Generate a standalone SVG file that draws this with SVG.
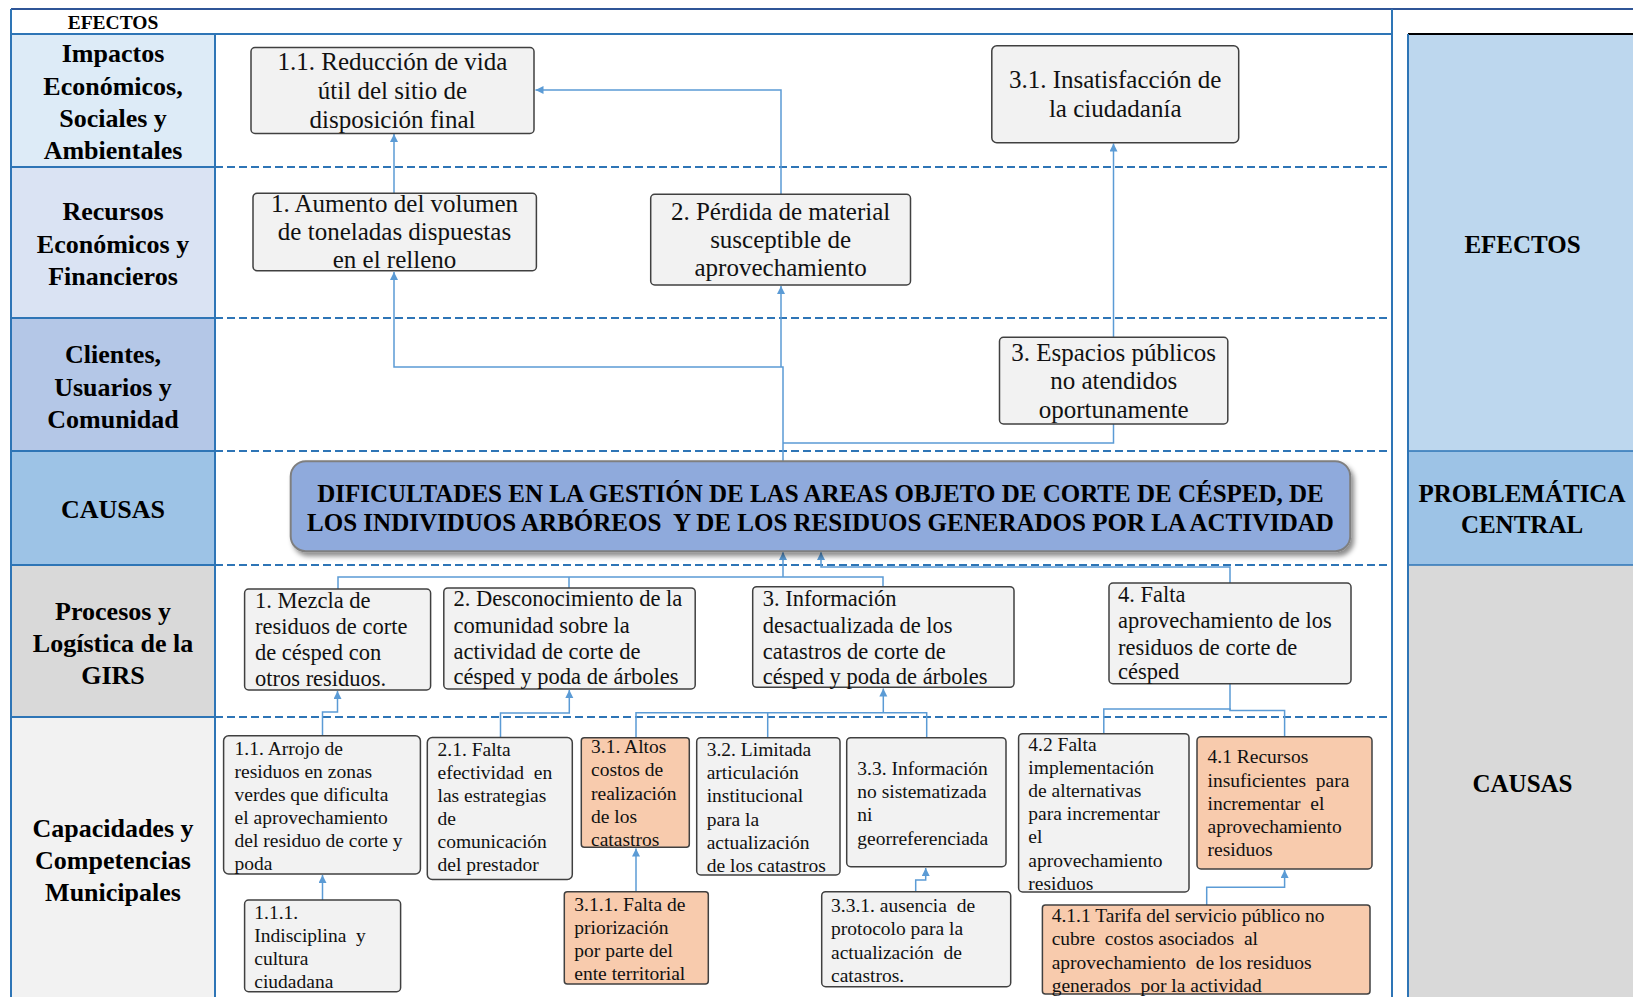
<svg xmlns="http://www.w3.org/2000/svg" width="1633" height="997" viewBox="0 0 1633 997">
<style>
text{white-space:pre}
.lbl{font-family:"Liberation Serif","Times New Roman",serif;font-weight:bold;font-size:26px;text-anchor:middle;fill:#000}
.rlbl{font-family:"Liberation Serif","Times New Roman",serif;font-weight:bold;font-size:25px;text-anchor:middle;fill:#000}
.hdr{font-family:"Liberation Serif","Times New Roman",serif;font-weight:bold;font-size:19.5px;text-anchor:middle;fill:#000}
.eff{font-family:"Liberation Serif","Times New Roman",serif;font-size:25px;text-anchor:middle;fill:#111}
.c1{font-family:"Liberation Serif","Times New Roman",serif;font-size:22.5px;fill:#111}
.c2{font-family:"Liberation Serif","Times New Roman",serif;font-size:19.5px;fill:#111}
.ctr{font-family:"Liberation Serif","Times New Roman",serif;font-weight:bold;font-size:25px;text-anchor:middle;fill:#000}
.box{fill:#F2F2F2;stroke:#404040;stroke-width:1.5}
.obox{fill:#F8CBAD;stroke:#404040;stroke-width:1.5}
.solid{stroke:#2E75B6;stroke-width:2;fill:none}
.dash{stroke:#2E75B6;stroke-width:2;stroke-dasharray:8 4;fill:none}
.conn{fill:none;stroke:#5B9BD5;stroke-width:1.5}
</style>
<defs>
<marker id="arr" markerUnits="userSpaceOnUse" markerWidth="9" markerHeight="9" refX="8" refY="4" orient="auto">
<path d="M0,0 L8,4 L0,8 z" fill="#5B9BD5"/>
</marker>
<filter id="sh" x="-5%" y="-20%" width="110%" height="150%">
<feDropShadow dx="3" dy="4" stdDeviation="2.5" flood-color="#000" flood-opacity="0.45"/>
</filter>
</defs>
<rect x="0" y="0" width="1633" height="997" fill="#fff"/>

<g id="table">
<rect x="11" y="34" width="204" height="133" fill="#DDEBF7"/>
<rect x="11" y="167" width="204" height="151" fill="#DAE3F3"/>
<rect x="11" y="318" width="204" height="133" fill="#B4C7E7"/>
<rect x="11" y="451" width="204" height="114" fill="#9DC3E6"/>
<rect x="11" y="565" width="204" height="152" fill="#D9D9D9"/>
<rect x="11" y="717" width="204" height="280" fill="#F2F2F2"/>
<line x1="11" y1="9" x2="1633" y2="9" stroke="#2F5597" stroke-width="2"/>
<line x1="11" y1="9" x2="11" y2="997" class="solid"/>
<line x1="11" y1="34" x2="1392" y2="34" class="solid"/>
<line x1="1392" y1="9" x2="1392" y2="997" class="solid"/>
<line x1="215" y1="34" x2="215" y2="997" class="solid"/>
<line x1="11" y1="167" x2="215" y2="167" class="solid"/>
<line x1="11" y1="318" x2="215" y2="318" class="solid"/>
<line x1="11" y1="451" x2="215" y2="451" class="solid"/>
<line x1="11" y1="565" x2="215" y2="565" class="solid"/>
<line x1="11" y1="717" x2="215" y2="717" class="solid"/>
<line x1="215" y1="167" x2="1392" y2="167" class="dash"/>
<line x1="215" y1="318" x2="1392" y2="318" class="dash"/>
<line x1="215" y1="451" x2="1392" y2="451" class="dash"/>
<line x1="215" y1="565" x2="1392" y2="565" class="dash"/>
<line x1="215" y1="717" x2="1392" y2="717" class="dash"/>
<text class="hdr" x="113" y="29">EFECTOS</text>
<text class="lbl"><tspan x="113" y="62">Impactos</tspan><tspan x="113" y="94.5">Económicos,</tspan><tspan x="113" y="127">Sociales y</tspan><tspan x="113" y="159">Ambientales</tspan></text>
<text class="lbl"><tspan x="113" y="220">Recursos</tspan><tspan x="113" y="252.5">Económicos y</tspan><tspan x="113" y="284.5">Financieros</tspan></text>
<text class="lbl"><tspan x="113" y="363">Clientes,</tspan><tspan x="113" y="395.5">Usuarios y</tspan><tspan x="113" y="428">Comunidad</tspan></text>
<text class="lbl" x="113" y="518">CAUSAS</text>
<text class="lbl"><tspan x="113" y="619.5">Procesos y</tspan><tspan x="113" y="651.5">Logística de la</tspan><tspan x="113" y="683.5">GIRS</tspan></text>
<text class="lbl"><tspan x="113" y="836.5">Capacidades y</tspan><tspan x="113" y="868.5">Competencias</tspan><tspan x="113" y="900.5">Municipales</tspan></text>
</g>

<g id="right-panel">
<rect x="1408" y="34" width="225" height="417" fill="#BDD7EE"/>
<rect x="1408" y="451" width="225" height="114" fill="#9DC3E6"/>
<rect x="1408" y="565" width="225" height="432" fill="#D9D9D9"/>
<line x1="1408" y1="34" x2="1633" y2="34" stroke="#000" stroke-width="2"/>
<line x1="1408" y1="34" x2="1408" y2="997" class="solid"/>
<line x1="1408" y1="451" x2="1633" y2="451" stroke="#2E75B6" stroke-width="1.5"/>
<line x1="1408" y1="565" x2="1633" y2="565" stroke="#2E75B6" stroke-width="1.5"/>
<text class="rlbl" x="1522.5" y="253">EFECTOS</text>
<text class="rlbl"><tspan x="1522" y="501.5">PROBLEMÁTICA</tspan><tspan x="1522" y="533">CENTRAL</tspan></text>
<text class="rlbl" x="1522.5" y="791.5">CAUSAS</text>
</g>

<g id="connectors">
<path class="conn" d="M394,193 V134" marker-end="url(#arr)"/>
<path class="conn" d="M783,461 V367 H394 V272" marker-end="url(#arr)"/>
<path class="conn" d="M781,367 V286" marker-end="url(#arr)"/>
<path class="conn" d="M783,443 H1113.5 V424"/>
<path class="conn" d="M781,194 V90 H535.5" marker-end="url(#arr)"/>
<path class="conn" d="M1113.5,337 V143.5" marker-end="url(#arr)"/>
<path class="conn" d="M783,577 V552" marker-end="url(#arr)"/>
<path class="conn" d="M338,589 V577 H883 V587"/>
<path class="conn" d="M569,577 V588"/>
<path class="conn" d="M1230,583 V567 H821 V552" marker-end="url(#arr)"/>
<path class="conn" d="M322.5,736 V712 H337.5 V691" marker-end="url(#arr)"/>
<path class="conn" d="M322.5,900 V875" marker-end="url(#arr)"/>
<path class="conn" d="M500.5,737.5 V713 H569.3 V690" marker-end="url(#arr)"/>
<path class="conn" d="M636,737.7 V712.7 H926.7 V737.7"/>
<path class="conn" d="M767.7,712.7 V737.7"/>
<path class="conn" d="M883.3,712.7 V688.5" marker-end="url(#arr)"/>
<path class="conn" d="M636,891.7 V848.5" marker-end="url(#arr)"/>
<path class="conn" d="M915.7,891.7 V880 H925.7 V868" marker-end="url(#arr)"/>
<path class="conn" d="M1230,683.7 V710"/>
<path class="conn" d="M1103.8,733.7 V709 H1230 V710.5 H1284.6 V736.7"/>
<path class="conn" d="M1206.7,905 V887.3 H1284.6 V870" marker-end="url(#arr)"/>
</g>

<g id="e11"><rect class="box" x="251" y="47.5" width="283" height="86" rx="4"/>
<text class="eff"><tspan x="392.5" y="70">1.1. Reducción de vida</tspan><tspan x="392.5" y="99">útil del sitio de</tspan><tspan x="392.5" y="127.5">disposición final</tspan></text></g>
<g id="e1"><rect class="box" x="253" y="193.3" width="283.4" height="77.4" rx="4"/>
<text class="eff"><tspan x="394.5" y="211.5">1. Aumento del volumen</tspan><tspan x="394.5" y="240">de toneladas dispuestas</tspan><tspan x="394.5" y="268">en el relleno</tspan></text></g>
<g id="e2"><rect class="box" x="650.7" y="194.3" width="259.8" height="90.7" rx="4"/>
<text class="eff"><tspan x="780.6" y="220">2. Pérdida de material</tspan><tspan x="780.6" y="248">susceptible de</tspan><tspan x="780.6" y="276">aprovechamiento</tspan></text></g>
<g id="e31"><rect class="box" x="991.8" y="45.7" width="246.9" height="97" rx="5"/>
<text class="eff"><tspan x="1115.2" y="88.3">3.1. Insatisfacción de</tspan><tspan x="1115.2" y="117.3">la ciudadanía</tspan></text></g>
<g id="e3"><rect class="box" x="999.5" y="337.3" width="228.3" height="86.7" rx="4"/>
<text class="eff"><tspan x="1113.7" y="360.7">3. Espacios públicos</tspan><tspan x="1113.7" y="389.3">no atendidos</tspan><tspan x="1113.7" y="417.7">oportunamente</tspan></text></g>

<g id="central"><rect x="290.7" y="461.2" width="1059.5" height="90" rx="15" fill="#8FAADC" stroke="#7F7F7F" stroke-width="2" filter="url(#sh)"/>
<text class="ctr"><tspan x="820.5" y="501.7">DIFICULTADES EN LA GESTIÓN DE LAS AREAS OBJETO DE CORTE DE CÉSPED, DE</tspan><tspan x="820.5" y="530.5">LOS INDIVIDUOS ARBÓREOS  Y DE LOS RESIDUOS GENERADOS POR LA ACTIVIDAD</tspan></text></g>

<g id="c1"><rect class="box" x="244.6" y="589" width="186" height="101" rx="4"/>
<text class="c1"><tspan x="255" y="608.3">1. Mezcla de</tspan><tspan x="255" y="634">residuos de corte</tspan><tspan x="255" y="660">de césped con</tspan><tspan x="255" y="686">otros residuos.</tspan></text></g>
<g id="c2"><rect class="box" x="443.8" y="587.9" width="251.4" height="101" rx="4"/>
<text class="c1"><tspan x="453.6" y="605.7">2. Desconocimiento de la</tspan><tspan x="453.6" y="632.7">comunidad sobre la</tspan><tspan x="453.6" y="659">actividad de corte de</tspan><tspan x="453.6" y="684">césped y poda de árboles</tspan></text></g>
<g id="c3"><rect class="box" x="752.7" y="586.7" width="261.3" height="100.6" rx="4"/>
<text class="c1"><tspan x="762.7" y="605.7">3. Información</tspan><tspan x="762.7" y="632.7">desactualizada de los</tspan><tspan x="762.7" y="659">catastros de corte de</tspan><tspan x="762.7" y="684">césped y poda de árboles</tspan></text></g>
<g id="c4"><rect class="box" x="1109" y="583" width="242" height="100.7" rx="4"/>
<text class="c1"><tspan x="1118" y="601.7">4. Falta</tspan><tspan x="1118" y="628.3">aprovechamiento de los</tspan><tspan x="1118" y="655">residuos de corte de</tspan><tspan x="1118" y="679.3">césped</tspan></text></g>

<g id="b11"><rect class="box" x="223.6" y="735.7" width="196.8" height="138.3" rx="5"/>
<text class="c2"><tspan x="234.6" y="755">1.1. Arrojo de</tspan><tspan x="234.6" y="778">residuos en zonas</tspan><tspan x="234.6" y="801">verdes que dificulta</tspan><tspan x="234.6" y="824">el aprovechamiento</tspan><tspan x="234.6" y="847">del residuo de corte y</tspan><tspan x="234.6" y="869.7">poda</tspan></text></g>
<g id="b111"><rect class="box" x="244.6" y="900" width="156" height="91.7" rx="4"/>
<text class="c2"><tspan x="254.3" y="919">1.1.1.</tspan><tspan x="254.3" y="941.7">Indisciplina  y</tspan><tspan x="254.3" y="964.5">cultura</tspan><tspan x="254.3" y="987.5">ciudadana</tspan></text></g>
<g id="b21"><rect class="box" x="427.3" y="737.5" width="145" height="142" rx="5"/>
<text class="c2"><tspan x="437.5" y="756">2.1. Falta</tspan><tspan x="437.5" y="779">efectividad  en</tspan><tspan x="437.5" y="802">las estrategias</tspan><tspan x="437.5" y="825">de</tspan><tspan x="437.5" y="848">comunicación</tspan><tspan x="437.5" y="871">del prestador</tspan></text></g>
<g id="b31"><rect class="obox" x="581.3" y="737.7" width="108" height="109.6" rx="3"/>
<text class="c2"><tspan x="591" y="752.5">3.1. Altos</tspan><tspan x="591" y="776">costos de</tspan><tspan x="591" y="799.5">realización</tspan><tspan x="591" y="823">de los</tspan><tspan x="591" y="846">catastros</tspan></text></g>
<g id="b311"><rect class="obox" x="564.3" y="891.7" width="144" height="92.3" rx="3"/>
<text class="c2"><tspan x="574.3" y="911">3.1.1. Falta de</tspan><tspan x="574.3" y="933.5">priorización</tspan><tspan x="574.3" y="956.5">por parte del</tspan><tspan x="574.3" y="980">ente territorial</tspan></text></g>
<g id="b32"><rect class="box" x="696.7" y="737.7" width="143.3" height="137.3" rx="4"/>
<text class="c2"><tspan x="706.7" y="756">3.2. Limitada</tspan><tspan x="706.7" y="779">articulación</tspan><tspan x="706.7" y="802">institucional</tspan><tspan x="706.7" y="825.5">para la</tspan><tspan x="706.7" y="848.5">actualización</tspan><tspan x="706.7" y="871.5">de los catastros</tspan></text></g>
<g id="b33"><rect class="box" x="846.7" y="737.7" width="159.3" height="129" rx="4"/>
<text class="c2"><tspan x="857.3" y="775">3.3. Información</tspan><tspan x="857.3" y="798">no sistematizada</tspan><tspan x="857.3" y="821">ni</tspan><tspan x="857.3" y="845">georreferenciada</tspan></text></g>
<g id="b331"><rect class="box" x="821.7" y="891.7" width="189" height="95" rx="4"/>
<text class="c2"><tspan x="831" y="912">3.3.1. ausencia  de</tspan><tspan x="831" y="935">protocolo para la</tspan><tspan x="831" y="958.5">actualización  de</tspan><tspan x="831" y="981.5">catastros.</tspan></text></g>
<g id="b42"><rect class="box" x="1018.6" y="733.7" width="170.4" height="158.3" rx="4"/>
<text class="c2"><tspan x="1028.3" y="750.5">4.2 Falta</tspan><tspan x="1028.3" y="773.8">implementación</tspan><tspan x="1028.3" y="797">de alternativas</tspan><tspan x="1028.3" y="820.2">para incrementar</tspan><tspan x="1028.3" y="843.4">el</tspan><tspan x="1028.3" y="866.6">aprovechamiento</tspan><tspan x="1028.3" y="889.8">residuos</tspan></text></g>
<g id="b41"><rect class="obox" x="1197" y="736.7" width="175" height="132.3" rx="4"/>
<text class="c2"><tspan x="1207.5" y="763">4.1 Recursos</tspan><tspan x="1207.5" y="786.5">insuficientes  para</tspan><tspan x="1207.5" y="810">incrementar  el</tspan><tspan x="1207.5" y="833">aprovechamiento</tspan><tspan x="1207.5" y="856">residuos</tspan></text></g>
<g id="b411"><rect class="obox" x="1042.4" y="905" width="327.6" height="89" rx="3"/>
<text class="c2"><tspan x="1051.7" y="921.5">4.1.1 Tarifa del servicio público no</tspan><tspan x="1051.7" y="945">cubre  costos asociados  al</tspan><tspan x="1051.7" y="968.5">aprovechamiento  de los residuos</tspan><tspan x="1051.7" y="991.5">generados  por la actividad</tspan></text></g>
</svg>
